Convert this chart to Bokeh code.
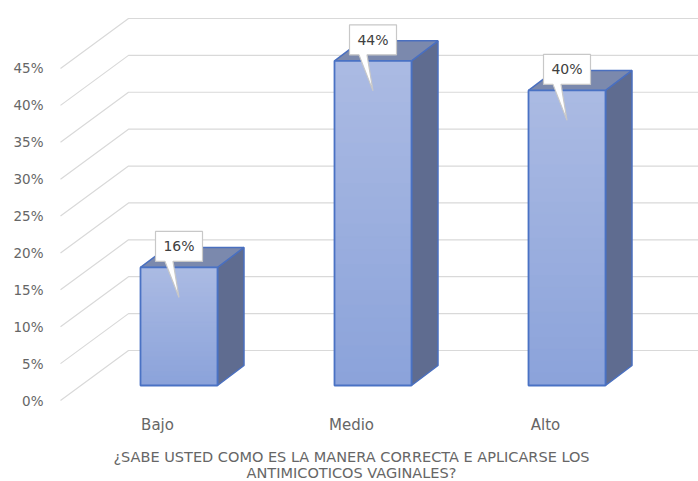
from bokeh.plotting import figure
from bokeh.models import Range1d
from bokeh.core.properties import value
from bokeh.embed import file_html
from bokeh.resources import INLINE

# ---- data ----
categories = ["Bajo", "Medio", "Alto"]
values = [0.16, 0.44, 0.40]
value_labels = ["16%", "44%", "40%"]
tick_values = [0.00, 0.05, 0.10, 0.15, 0.20, 0.25, 0.30, 0.35, 0.40, 0.45]
tick_labels = ["0%", "5%", "10%", "15%", "20%", "25%", "30%", "35%", "40%", "45%"]
title_lines = ["¿SABE USTED COMO ES LA MANERA CORRECTA E APLICARSE LOS",
               "ANTIMICOTICOS VAGINALES?"]

# ---- geometry (styles / 3D offsets) ----
W, H = 698, 481
SX = 194.0          # px per category unit
SY = 737.8          # px per 100%
X0 = 157.0          # px of first category on the front plane
Y0 = 400.0          # px of 0% on the front plane
FONT = value("DejaVu Sans")

def dx(px):
    return px / SX

def dy(px):
    return px / SY

p = figure(width=W, height=H, output_backend="svg", toolbar_location=None,
           x_range=Range1d(-X0 / SX, (W - X0) / SX),
           y_range=Range1d(-(H - Y0) / SY, Y0 / SY),
           x_axis_location=None, y_axis_location=None,
           min_border=0, min_border_left=0, min_border_right=0,
           min_border_top=0, min_border_bottom=0)
p.outline_line_color = None
p.xgrid.visible = False
p.ygrid.visible = False
p.background_fill_color = "white"
p.border_fill_color = "white"

# ---- 3D grid (front diagonal + back horizontal) ----
gx0 = dx(60 - X0)
gdx, gdy = dx(68), dy(50)
xend = (W - X0) / SX + 0.1
gxs, gys = [], []
for t in tick_values:
    gxs.append([gx0, gx0 + gdx, xend])
    gys.append([t, t + gdy, t + gdy])
p.multi_line(gxs, gys, line_color="#d9d9d9", line_width=1.2)

# tick labels on the front plane
p.text(x=[dx(43 - X0)] * len(tick_values), y=tick_values, text=tick_labels,
       text_align="right", text_baseline="middle", text_font=FONT,
       text_font_size="13.5px", text_color="#666666")

# ---- bars ----
BAR_SHIFT = dx(21.5)
BASE = dy(15)
HW = dx(38.5)
DDX, DDY = dx(26.5), dy(20)

front_l, front_r, front_b, front_t = [], [], [], []
side_xs, side_ys, top_xs, top_ys = [], [], [], []
centers = []
for i, v in enumerate(values):
    c = i + BAR_SHIFT
    centers.append(c)
    l, r, b, t = c - HW, c + HW, BASE, BASE + v
    front_l.append(l); front_r.append(r); front_b.append(b); front_t.append(t)
    side_xs.append([r, r + DDX, r + DDX, r])
    side_ys.append([b, b + DDY, t + DDY, t])
    top_xs.append([l, l + DDX, r + DDX, r])
    top_ys.append([t, t + DDY, t + DDY, t])

p.patches(side_xs, side_ys, fill_color="#5f6c90", line_color="#4a6fbf", line_width=1.5)
p.patches(top_xs, top_ys, fill_color="#7b89ad", line_color="#4a6fbf", line_width=1.5)

# front face with subtle vertical gradient
NSTR = 24
top_col = (0xAB, 0xBA, 0xE3)
bot_col = (0x8B, 0xA3, 0xDA)
sl, sr, sb, st, sc = [], [], [], [], []
for i in range(len(values)):
    hgt = front_t[i] - front_b[i]
    for k in range(NSTR):
        f0 = k / NSTR
        f1 = (k + 1) / NSTR
        sl.append(front_l[i]); sr.append(front_r[i])
        sb.append(front_b[i] + hgt * f0); st.append(front_b[i] + hgt * min(1.0, f1 + 0.01))
        fm = (f0 + f1) / 2
        col = tuple(int(round(bot_col[j] + (top_col[j] - bot_col[j]) * fm)) for j in range(3))
        sc.append("#%02x%02x%02x" % col)
p.quad(left=sl, right=sr, bottom=sb, top=st, fill_color=sc, line_color=sc, line_width=1)
p.quad(left=front_l, right=front_r, bottom=front_b, top=front_t,
       fill_color=None, line_color="#4a72c4", line_width=1.8)

# ---- data label callouts ----
BW, BH = dx(23.5), dy(15)
LBL_UP = dy(21)
TIP_DN = dy(30)
cx_, cy_ = [], []
cxs, cys = [], []
for i, v in enumerate(values):
    c = centers[i]
    yc = front_t[i] + LBL_UP
    L, R, T, B = c - BW, c + BW, yc + BH, yc - BH
    tip_y = front_t[i] - TIP_DN
    cxs.append([L, R, R, c - dx(6), c, c - dx(14), L])
    cys.append([T, T, B, B, tip_y, B, B])
    cx_.append(c); cy_.append(yc)
p.patches(cxs, cys, fill_color="white", line_color="#c8c8c8", line_width=1.2)
p.text(x=cx_, y=cy_, text=value_labels, text_align="center", text_baseline="middle",
       text_font=FONT, text_font_size="14px", text_color="#404040")

# ---- category labels ----
p.text(x=list(range(len(categories))), y=[dy(-24)] * len(categories), text=categories,
       text_align="center", text_baseline="middle", text_font=FONT,
       text_font_size="15px", text_color="#666666")

# ---- axis title ----
p.text(x=[1.0] * 2, y=[dy(-56), dy(-72)], text=title_lines,
       text_align="center", text_baseline="middle", text_font=FONT,
       text_font_size="14.5px", text_color="#666666")

open("out.html", "w").write(file_html(p, INLINE))
